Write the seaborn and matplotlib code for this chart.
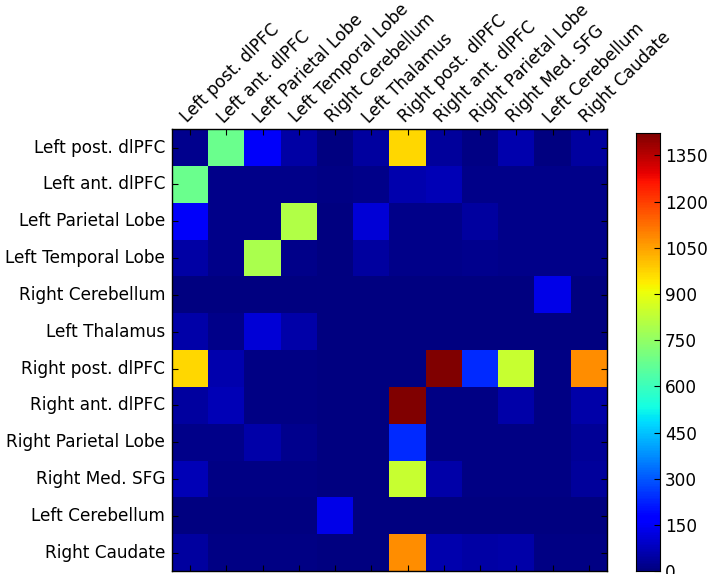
import numpy as np
import matplotlib
matplotlib.use("Agg")
import matplotlib.pyplot as plt
import seaborn as sns

# ── Data ────────────────────────────────────────────────────────────────────
REGIONS = [
    "Left post. dlPFC", "Left ant. dlPFC", "Left Parietal Lobe",
    "Left Temporal Lobe", "Right Cerebellum", "Left Thalamus",
    "Right post. dlPFC", "Right ant. dlPFC", "Right Parietal Lobe",
    "Right Med. SFG", "Left Cerebellum", "Right Caudate",
]

row_left_post_dlpfc   = [20, 680, 150, 45, 5, 40, 970, 35, 10, 60, 5, 40]
row_left_ant_dlpfc    = [680, 15, 15, 15, 10, 15, 60, 70, 15, 15, 15, 15]
row_left_parietal     = [150, 15, 15, 800, 5, 110, 15, 15, 40, 15, 15, 15]
row_left_temporal     = [45, 15, 790, 15, 5, 40, 15, 15, 20, 15, 15, 15]
row_right_cerebellum  = [5, 5, 5, 5, 5, 5, 5, 5, 5, 5, 130, 5]
row_left_thalamus     = [50, 15, 110, 50, 5, 5, 5, 5, 5, 5, 5, 5]
row_right_post_dlpfc  = [970, 60, 10, 10, 5, 5, 5, 1420, 235, 840, 10, 1080]
row_right_ant_dlpfc   = [40, 70, 10, 10, 5, 5, 1420, 10, 10, 50, 10, 55]
row_right_parietal    = [15, 15, 50, 20, 5, 5, 235, 10, 10, 10, 10, 30]
row_right_med_sfg     = [70, 10, 10, 10, 5, 5, 840, 50, 10, 10, 10, 35]
row_left_cerebellum   = [5, 5, 5, 5, 130, 5, 5, 5, 5, 5, 5, 5]
row_right_caudate     = [40, 10, 10, 10, 5, 5, 1080, 60, 45, 50, 10, 10]

VMAX = 1422
CBAR_TICKS = list(range(0, 1351, 150))

matrix = np.array([
    row_left_post_dlpfc, row_left_ant_dlpfc, row_left_parietal,
    row_left_temporal, row_right_cerebellum, row_left_thalamus,
    row_right_post_dlpfc, row_right_ant_dlpfc, row_right_parietal,
    row_right_med_sfg, row_left_cerebellum, row_right_caudate,
])

# ── Plot ────────────────────────────────────────────────────────────────────
fig = plt.figure(figsize=(7.09, 5.74), dpi=100)
ax = fig.add_axes([0.2426, 0.005, 0.6135, 0.770])
cax = fig.add_axes([0.897, 0.005, 0.034, 0.763])

sns.heatmap(matrix, ax=ax, cbar_ax=cax, cmap="jet", vmin=0, vmax=VMAX,
            xticklabels=REGIONS, yticklabels=REGIONS,
            cbar_kws={"ticks": CBAR_TICKS})

FS = 12.2
ax.xaxis.tick_top()
ax.set_xticklabels(REGIONS, rotation=45, ha="left", rotation_mode="anchor",
                   fontsize=FS)
ax.set_yticklabels(REGIONS, rotation=0, fontsize=FS)
ax.tick_params(axis="both", direction="in", length=4, width=0.8,
               top=True, bottom=True, left=True, right=True)
ax.tick_params(axis="x", pad=2)
ax.tick_params(axis="y", pad=5)
for s in ax.spines.values():
    s.set_visible(True)
    s.set_color("black")
    s.set_linewidth(1.0)

cax.tick_params(direction="in", length=4, labelsize=FS, width=0.8)
cax.set_yticklabels([str(t) for t in CBAR_TICKS])
for s in cax.spines.values():
    s.set_visible(True)
    s.set_color("black")

fig.savefig("out.png", dpi=100)
